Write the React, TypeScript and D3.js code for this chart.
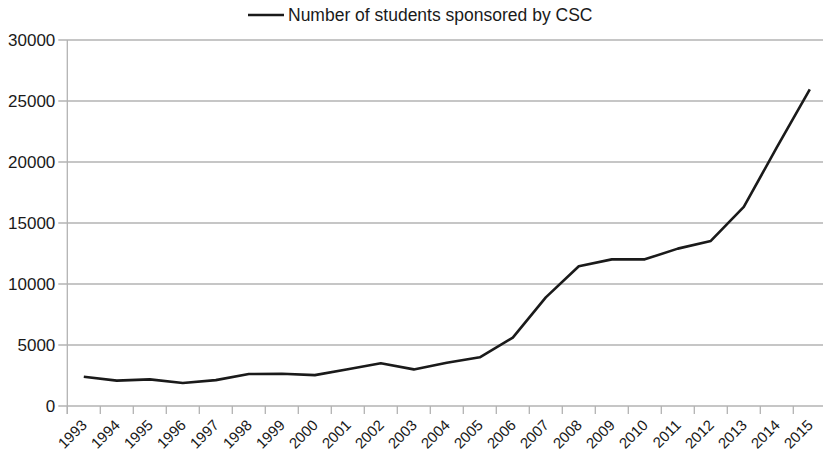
import * as d3 from 'd3';

const years = [
  '1993', '1994', '1995', '1996', '1997', '1998', '1999', '2000', '2001', '2002', '2003', '2004',
  '2005', '2006', '2007', '2008', '2009', '2010', '2011', '2012', '2013', '2014', '2015',
];
const students = [
  2400, 2080, 2180, 1890, 2120, 2620, 2640, 2530, 3020, 3500, 3000, 3540,
  3990, 5600, 8900, 11450, 12020, 12020, 12900, 13530, 16320, 21200, 25950,
];
const yTicks = [0, 5000, 10000, 15000, 20000, 25000, 30000];
const seriesName = 'Number of students sponsored by CSC';

const width = 823;
const height = 454;
const margin = { left: 67.3, right: -3.3, top: 40, bottom: 48 };

const App = () => {
  const x = d3.scaleBand()
    .domain(years)
    .range([margin.left, width - margin.right]);

  const y = d3.scaleLinear()
    .domain([0, 30000])
    .range([height - margin.bottom, margin.top]);

  const line = d3.line<number>()
    .x((d, i) => (x(years[i]) as number) + x.bandwidth() / 2)
    .y((d) => y(d));

  const font = 'Arial, "Liberation Sans", sans-serif';

  return (
    <svg
      width={width}
      height={height}
      style={{ position: 'absolute', left: 0, top: 0, background: '#fff' }}
      fontFamily={font}
    >
      {/* gridlines + y labels */}
      {yTicks.map((t) => (
        <g key={t}>
          <line
            x1={margin.left - 9}
            x2={width}
            y1={y(t)}
            y2={y(t)}
            stroke="#b3b3b3"
            strokeWidth={1.3}
          />
          <text
            x={margin.left - 12}
            y={y(t)}
            textAnchor="end"
            dominantBaseline="central"
            fontSize={17}
            fill="#1a1a1a"
          >
            {t}
          </text>
        </g>
      ))}

      {/* y axis line */}
      <line
        x1={margin.left}
        x2={margin.left}
        y1={y(30000)}
        y2={y(0) + 8}
        stroke="#b3b3b3"
        strokeWidth={1.3}
      />

      {/* x ticks */}
      {years.map((yr) => (
        <line
          key={'t' + yr}
          x1={x(yr)}
          x2={x(yr)}
          y1={y(0)}
          y2={y(0) + 8}
          stroke="#b3b3b3"
          strokeWidth={1.3}
        />
      ))}

      {/* x labels */}
      {years.map((yr) => {
        const cx = (x(yr) as number) + x.bandwidth() / 2;
        return (
          <text
            key={'l' + yr}
            transform={`translate(${cx + 4}, ${y(0) + 20}) rotate(-45)`}
            textAnchor="end"
            fontSize={15}
            fill="#1a1a1a"
          >
            {yr}
          </text>
        );
      })}

      {/* series */}
      <path
        d={line(students) || ''}
        fill="none"
        stroke="#1a1a1a"
        strokeWidth={2.6}
        strokeLinejoin="round"
      />

      {/* legend */}
      <line x1={248} x2={284} y1={15} y2={15} stroke="#1a1a1a" strokeWidth={2.6} />
      <text x={288} y={15} dominantBaseline="central" fontSize={17.5} fill="#1a1a1a">
        {seriesName}
      </text>
    </svg>
  );
};

export default App;
